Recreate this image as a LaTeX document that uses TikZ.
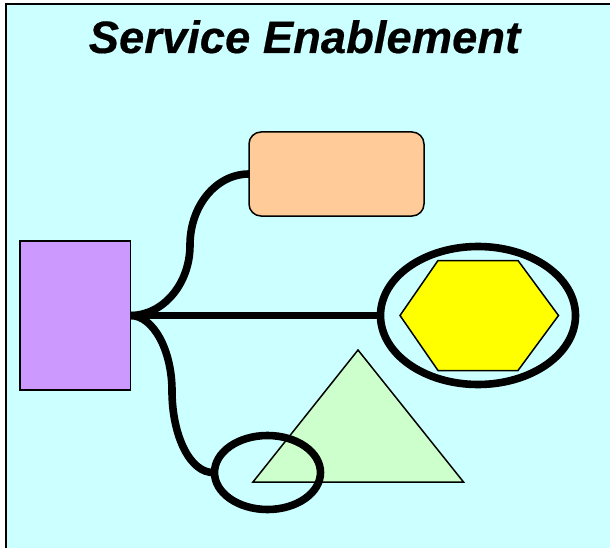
\documentclass[tikz,border=0pt]{standalone}
\usepackage{fontspec}
\setmainfont{Liberation Sans}
\newfontface\titlefont{Liberation Sans Bold Italic}[FakeBold=0.4]
\usetikzlibrary{shapes.geometric}
\definecolor{bgc}{HTML}{CCFFFF}
\definecolor{purplec}{HTML}{CC99FF}
\definecolor{orangec}{HTML}{FFCC99}
\definecolor{greenc}{HTML}{CCFFCC}
\definecolor{yellowc}{HTML}{FFFF00}
\tikzset{
  shapebox/.style={draw=black,line width=1.5pt,inner sep=0pt,outer sep=0pt},
  ring/.style={ellipse,draw=black,line width=7.6pt,inner sep=0pt,outer sep=0pt},
  thin outline/.style={draw=black,line width=1.5pt,line join=miter},
  link/.style={draw=black,line width=7.6pt,line cap=butt},
  titletext/.style={inner sep=0pt,anchor=base,font=\fontsize{45.4}{50}\selectfont\titlefont}
}
\begin{document}
\begin{tikzpicture}[x=1pt,y=-1pt]
\useasboundingbox (0,0) rectangle (610,548);
\fill[white] (0,0) rectangle (610,548);
\fill[bgc] (6,4) rectangle (610,548);
\draw[black,line width=2pt] (6,548) -- (6,4) -- (610,4);
\node[titletext] (title) at (304.5,53) {Service Enablement};
% shapes
\node[shapebox,fill=purplec,minimum width=110.5pt,minimum height=149pt] (source) at (75.25,315.5) {};
\node[shapebox,fill=orangec,rounded corners=12pt,minimum width=175pt,minimum height=84pt] (target) at (336.5,174) {};
\node[ring,minimum width=195pt,minimum height=138pt] (bigring) at (478,315.5) {};
\filldraw[thin outline,fill=yellowc] (400,315.5) -- (438,260.5) -- (518,260.5) -- (558.5,315.5) -- (518,370.5) -- (438,370.5) -- cycle;
\filldraw[thin outline,fill=greenc] (358,350) -- (463.5,482) -- (253,482) -- cycle;
\node[ring,minimum width=106pt,minimum height=74pt] (smallring) at (267.5,472.5) {};
% connectors
\coordinate (start) at (source.east);
\draw[link] (start) -- (bigring.west);
\draw[link] (start) .. controls (163,315.5) and (190,284) .. (190,245) .. controls (190,206) and (216,174) .. (target.west);
\draw[link] (start) .. controls (153,315.5) and (172,350) .. (172,391) .. controls (172,435) and (190,474) .. (smallring.west);
\end{tikzpicture}
\end{document}
